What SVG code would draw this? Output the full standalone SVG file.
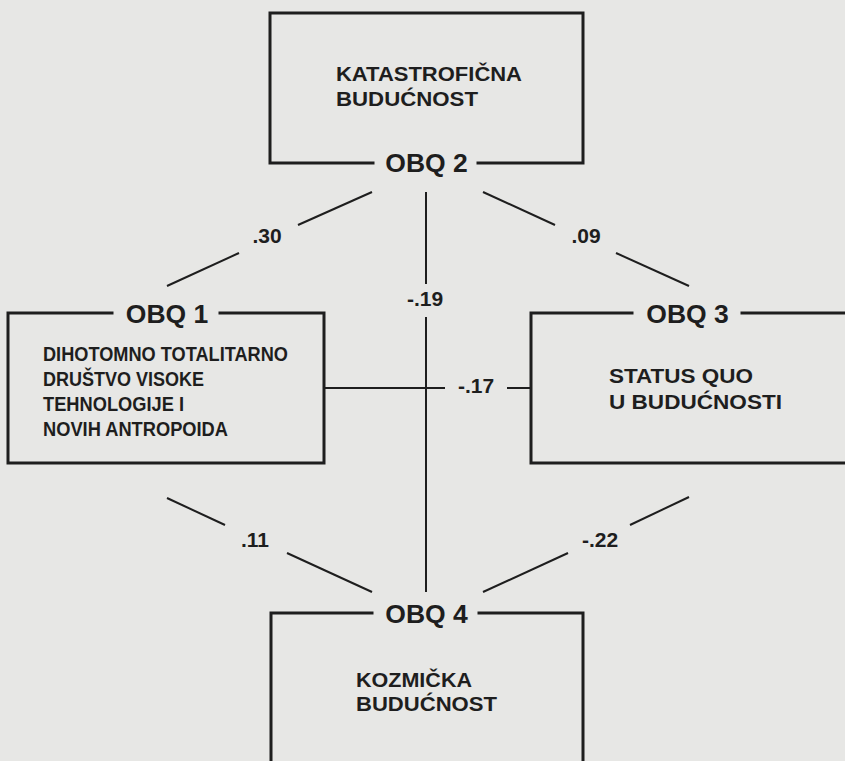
<svg xmlns="http://www.w3.org/2000/svg" width="845" height="761" viewBox="0 0 845 761">
<style>
.box{fill:none;stroke:#1e1e1e;stroke-width:3;stroke-linecap:square}
.con{fill:none;stroke:#1e1e1e;stroke-width:2}
.t{font-family:"Liberation Sans",Arial,sans-serif;font-weight:bold;fill:#1e1e1e;font-size:21px}
.obq{font-family:"Liberation Sans",Arial,sans-serif;font-weight:bold;fill:#1e1e1e;font-size:26.5px;text-anchor:middle}
.num{font-family:"Liberation Sans",Arial,sans-serif;font-weight:bold;fill:#1e1e1e;font-size:21px;text-anchor:middle}
</style>
<rect x="0" y="0" width="845" height="761" fill="#e7e7e5"/>
<g id="connectors">
<line class="con" x1="372" y1="192" x2="298" y2="225"/>
<line class="con" x1="239" y1="253" x2="167" y2="286"/>
<line class="con" x1="483" y1="192" x2="555" y2="225"/>
<line class="con" x1="616" y1="253" x2="689" y2="286"/>
<line class="con" x1="426" y1="192" x2="426" y2="284"/>
<line class="con" x1="426" y1="317" x2="426" y2="592"/>
<line class="con" x1="324" y1="388" x2="445" y2="388"/>
<line class="con" x1="507" y1="388" x2="531" y2="388"/>
<line class="con" x1="167" y1="498" x2="225" y2="525"/>
<line class="con" x1="287" y1="553" x2="372" y2="592"/>
<line class="con" x1="483" y1="592" x2="568" y2="553"/>
<line class="con" x1="630" y1="525" x2="689" y2="497"/>
<text class="num" x="267" y="243">.30</text>
<text class="num" x="425" y="306">-.19</text>
<text class="num" x="586" y="243">.09</text>
<text class="num" x="476" y="393">-.17</text>
<text class="num" x="255" y="547">.11</text>
<text class="num" x="600" y="547">-.22</text>
</g>
<g id="obq2">
<path class="box" d="M373,163 H270 V13 H583 V163 H478"/>
<text class="obq" x="426.5" y="172">OBQ 2</text>
<text class="t" x="336" y="81" textLength="186" lengthAdjust="spacingAndGlyphs">KATASTROFIČNA</text>
<text class="t" x="336" y="106" textLength="142" lengthAdjust="spacingAndGlyphs">BUDUĆNOST</text>
</g>
<g id="obq1">
<path class="box" d="M112,313 H8 V463 H324 V313 H220"/>
<text class="obq" x="167" y="323">OBQ 1</text>
<text class="t" x="43" y="361" textLength="245" lengthAdjust="spacingAndGlyphs">DIHOTOMNO TOTALITARNO</text>
<text class="t" x="43" y="386" textLength="161" lengthAdjust="spacingAndGlyphs">DRUŠTVO VISOKE</text>
<text class="t" x="43" y="411" textLength="141" lengthAdjust="spacingAndGlyphs">TEHNOLOGIJE I</text>
<text class="t" x="43" y="436" textLength="185" lengthAdjust="spacingAndGlyphs">NOVIH ANTROPOIDA</text>
</g>
<g id="obq3">
<path class="box" d="M632,313 H531 V463 H850 M742,313 H850"/>
<text class="obq" x="687.5" y="323">OBQ 3</text>
<text class="t" x="609" y="383" textLength="144" lengthAdjust="spacingAndGlyphs">STATUS QUO</text>
<text class="t" x="609" y="409" textLength="173" lengthAdjust="spacingAndGlyphs">U BUDUĆNOSTI</text>
</g>
<g id="obq4">
<path class="box" d="M372,613 H271 V770 M479,613 H583 V770"/>
<text class="obq" x="426.5" y="623">OBQ 4</text>
<text class="t" x="356" y="687" textLength="116" lengthAdjust="spacingAndGlyphs">KOZMIČKA</text>
<text class="t" x="356" y="711" textLength="141" lengthAdjust="spacingAndGlyphs">BUDUĆNOST</text>
</g>
</svg>
